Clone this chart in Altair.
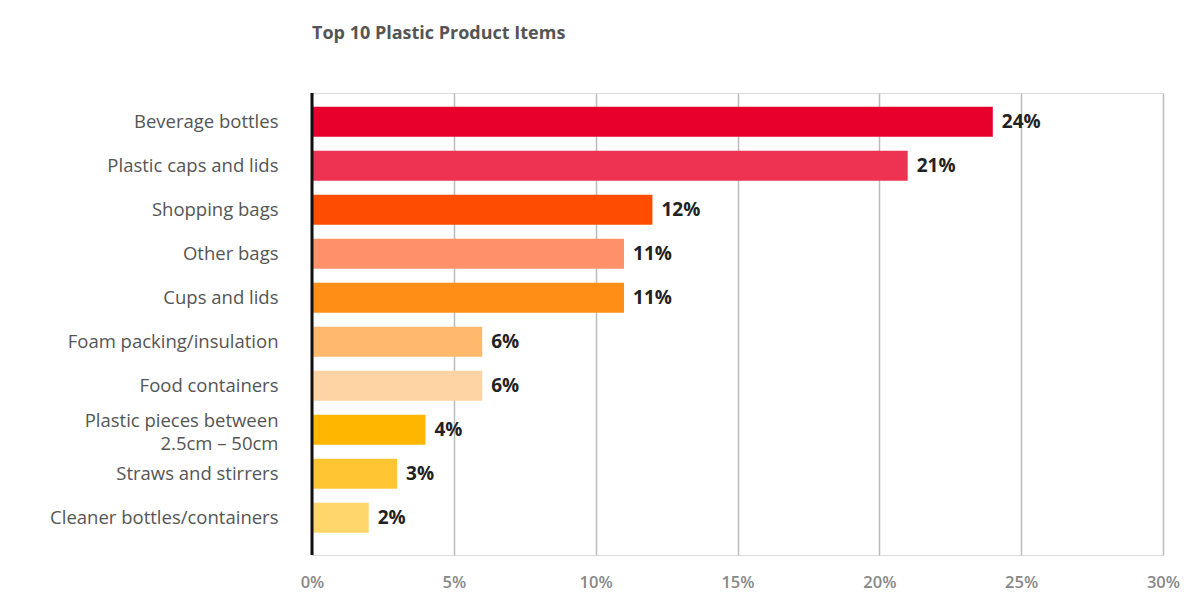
import altair as alt
import pandas as pd

categories = [
    "Beverage bottles",
    "Plastic caps and lids",
    "Shopping bags",
    "Other bags",
    "Cups and lids",
    "Foam packing/insulation",
    "Food containers",
    "Plastic pieces between|2.5cm – 50cm",
    "Straws and stirrers",
    "Cleaner bottles/containers",
]
values = [24, 21, 12, 11, 11, 6, 6, 4, 3, 2]
colors = [
    "#E8002C", "#EE3352", "#FF4D00", "#FF916A", "#FF8E17",
    "#FFB86C", "#FFD4A4", "#FFB600", "#FFC532", "#FFD66C",
]
x_ticks = [0, 5, 10, 15, 20, 25, 30]

df = pd.DataFrame({"item": categories, "value": values, "color": colors})
df["label"] = df["value"].astype(str) + "%"

FONT = "Open Sans"

y_enc = alt.Y(
    "item:N",
    sort=categories,
    scale=alt.Scale(paddingInner=0.32, paddingOuter=0.41, align=0.38),
    axis=alt.Axis(
        title=None, domain=False, ticks=False, labelPadding=34,
        labelFontSize=18.5, labelColor="#555555", labelFont=FONT,
        labelExpr="split(datum.label, '|')", labelLineHeight=23,
        labelOffset={"condition": {"test": "indexof(datum.value, '|') >= 0", "value": -9}, "value": 0},
        labelLimit=400,
    ),
)
x_enc = alt.X(
    "value:Q",
    scale=alt.Scale(domain=[0, 30], nice=False),
    axis=alt.Axis(
        title=None, values=x_ticks, format=".0f", labelExpr="datum.label + '%'",
        domain=False, ticks=False, grid=True, gridColor="#BBBBBB", gridWidth=1.5,
        labelPadding=19, labelFontSize=16.5, labelColor="#888888", labelFont=FONT,
        labelFontWeight=600, labelFlush=False,
    ),
)

bars = alt.Chart(df).mark_bar().encode(
    x=x_enc, y=y_enc, color=alt.Color("color:N", scale=None)
)
text = alt.Chart(df).mark_text(
    align="left", dx=9, fontSize=19, fontWeight="bold", color="#222222", font=FONT
).encode(x="value:Q", y=alt.Y("item:N", sort=categories), text="label:N")
zero = alt.Chart(pd.DataFrame({"v": [0]})).mark_rule(color="#111111", strokeWidth=3).encode(
    x="v:Q"
)

chart = (
    alt.layer(bars, text, zero)
    .properties(
        width=851, height=462,
        title=alt.TitleParams(
            "Top 10 Plastic Product Items", anchor="start", frame="group",
            fontSize=18, font=FONT, fontWeight="bold", color="#555555", offset=49,
        ),
        padding={"left": 312, "top": 93, "right": 40, "bottom": 50},
        autosize=alt.AutoSizeParams(type="none"),
    )
    .configure_view(stroke=None)
    .configure(background="white")
)

chart.save("out.html", embed_options={"renderer": "svg", "actions": False})
